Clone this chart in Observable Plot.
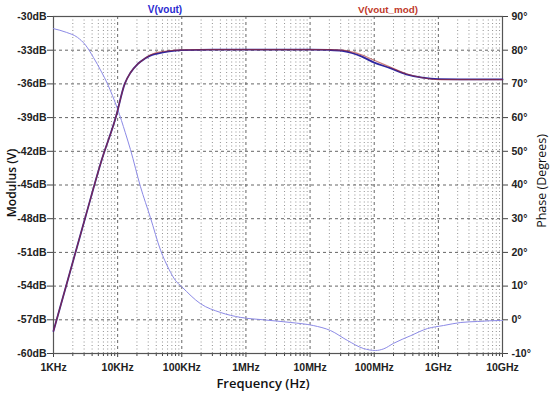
<!DOCTYPE html>
<html><head><meta charset="utf-8">
<script src="https://cdn.jsdelivr.net/npm/d3@7"></script>
<script src="https://cdn.jsdelivr.net/npm/@observablehq/plot@0.6"></script>
<style>body{margin:0;background:#fff}#chart{width:550px;height:396px}</style>
</head><body><div id="chart"></div>
<script>
// ---- data ----
const magLogFreq = [3.0, 3.25, 3.5, 3.75, 3.97, 4.11, 4.2, 4.3, 4.36, 4.5, 4.62, 4.8, 5.0, 5.5, 6.0, 6.5, 7.0, 7.3, 7.5, 7.65, 7.8, 8.0, 8.25, 8.5, 8.75, 9.0, 9.5, 10.0];
const magVout =    [-58.0, -52.9, -47.8, -42.8, -39.0, -36.0, -35.0, -34.3, -34.0, -33.5, -33.3, -33.1, -33.0, -32.95, -32.95, -32.95, -32.95, -32.98, -33.05, -33.25, -33.55, -34.1, -34.6, -35.15, -35.45, -35.58, -35.6, -35.6];
const magVoutMod = [-58.0, -52.9, -47.8, -42.8, -39.0, -36.0, -35.0, -34.3, -34.0, -33.45, -33.2, -33.05, -32.97, -32.95, -32.95, -32.95, -32.95, -32.95, -33.0, -33.15, -33.4, -33.9, -34.5, -35.1, -35.45, -35.62, -35.62, -35.62];
const phaseLogFreq = [3.0, 3.2, 3.374, 3.5, 3.624, 3.75, 3.842, 3.92, 4.0, 4.12, 4.2, 4.356, 4.51, 4.67, 4.8, 4.9, 5.0, 5.29, 5.6, 5.92, 6.27, 6.7, 7.05, 7.32, 7.58, 7.83, 8.02, 8.15, 8.3, 8.57, 8.83, 9.08, 9.35, 9.61, 9.97, 10.0];
const phaseVout =    [86.4, 85.3, 83.8, 81.5, 77.8, 73.5, 70.0, 66.5, 62.5, 55.5, 50.5, 39.5, 30.4, 20.6, 15.0, 11.7, 9.8, 4.8, 2.2, 0.7, 0.0, -0.8, -1.7, -3.2, -6.1, -8.5, -9.1, -8.6, -7.0, -4.7, -2.6, -1.7, -0.8, -0.5, -0.2, -0.2];
const dbTicks = [-60, -57, -54, -51, -48, -45, -42, -39, -36, -33, -30];
const phaseTicks = [-10, 0, 10, 20, 30, 40, 50, 60, 70, 80, 90];
const freqTicks = [1e3, 1e4, 1e5, 1e6, 1e7, 1e8, 1e9, 1e10];
const freqTickLabels = ["1KHz", "10KHz", "100KHz", "1MHz", "10MHz", "100MHz", "1GHz", "10GHz"];
const seriesNames = ["V(vout)", "V(vout_mod)"];
const seriesColors = ["#2e26a0", "#a82a24"];
const phaseColor = "#8c8ae6";

// phase axis is drawn against the dB scale: 90° ↔ -30 dB, -10° ↔ -60 dB
const phaseToDb = p => -57 + 0.3 * p;
const dbToPhase = d => Math.round((d + 57) / 0.3);
const freqLabel = d => freqTickLabels[Math.round(Math.log10(d)) - 3];

const magData = magLogFreq.map((l, i) => ({f: Math.pow(10, l), a: magVout[i], b: magVoutMod[i]}));
const phaseData = phaseLogFreq.map((l, i) => ({f: Math.pow(10, l), p: phaseToDb(phaseVout[i])}));
const minorTicks = [];
for (let d = 3; d < 10; d++) for (let k = 2; k <= 9; k++) minorTicks.push(k * Math.pow(10, d));

const tickFont = "Liberation Sans, Arial, sans-serif";
const plot = Plot.plot({
  width: 550, height: 396,
  marginLeft: 53, marginRight: 48, marginTop: 16, marginBottom: 43,
  x: {type: "log", domain: [1e3, 1e10]},
  y: {domain: [-60, -30]},
  style: {background: "#fff", overflow: "visible"},
  marks: [
    Plot.ruleX(minorTicks, {stroke: "#777", strokeOpacity: 0.8, strokeDasharray: "1,2.5", strokeWidth: 1}),
    Plot.ruleX(freqTicks.slice(1, -1), {stroke: "#666", strokeDasharray: "3,3", strokeWidth: 1}),
    Plot.ruleY(dbTicks.slice(1, -1), {stroke: "#666", strokeDasharray: "3,3", strokeWidth: 1}),
    Plot.axisY({ticks: dbTicks, tickFormat: d => d + "dB", tickSize: 6, tickPadding: 1, label: null, stroke: "#444"}),
    Plot.axisY({anchor: "right", ticks: phaseTicks.map(phaseToDb), tickFormat: d => dbToPhase(d) + "°", tickSize: 5, tickPadding: 4, label: null, stroke: "#444"}),
    Plot.axisX({ticks: minorTicks, tickFormat: () => "", tickSize: 3, label: null, stroke: "#444"}),
    Plot.axisX({ticks: freqTicks, tickFormat: freqLabel, tickSize: 4, tickPadding: 6, label: null, stroke: "#444"}),
    Plot.frame({stroke: "#555", strokeWidth: 1.2}),
    Plot.line(phaseData, {x: "f", y: "p", stroke: phaseColor, strokeWidth: 1.0, curve: "monotone-x"}),
    Plot.line(magData, {x: "f", y: "a", stroke: seriesColors[0], strokeWidth: 1.8, curve: "monotone-x"}),
    Plot.line(magData, {x: "f", y: "b", stroke: seriesColors[1], strokeWidth: 1.2, strokeOpacity: 0.6, curve: "monotone-x"})
  ]
});

const svg = d3.select(plot);
svg.selectAll("text").each(function() {
  this.style.fontFamily = tickFont;
  this.style.fontSize = "10.5px";
  this.style.fontWeight = "bold";
  this.setAttribute("fill", "#222");
});
const titleFont = "'Open Sans', 'DejaVu Sans', sans-serif";
svg.append("text").attr("x", 165).attr("y", 13).attr("text-anchor", "middle").style("font-family", tickFont)
  .attr("fill", "#2a2ad0").style("font-weight", "bold").style("font-size", "10px").text(seriesNames[0]);
svg.append("text").attr("x", 388).attr("y", 13).attr("text-anchor", "middle").style("font-family", tickFont)
  .attr("fill", "#c0392b").style("font-weight", "bold").style("font-size", "9.8px").text(seriesNames[1]);
svg.append("text").attr("transform", "translate(15.5,183) rotate(-90)").attr("text-anchor", "middle")
  .style("font-family", titleFont).style("font-size", "12px").style("font-weight", "600").attr("fill", "#111").text("Modulus (V)");
svg.append("text").attr("transform", "translate(546,181) rotate(-90)").attr("text-anchor", "middle")
  .style("font-family", titleFont).style("font-size", "12.5px").style("font-weight", "500").attr("fill", "#111").text("Phase (Degrees)");
svg.append("text").attr("x", 263).attr("y", 388).attr("text-anchor", "middle")
  .style("font-family", titleFont).style("font-size", "13px").style("font-weight", "600").attr("fill", "#111").text("Frequency (Hz)");

document.getElementById("chart").append(plot);
</script>
</body></html>
